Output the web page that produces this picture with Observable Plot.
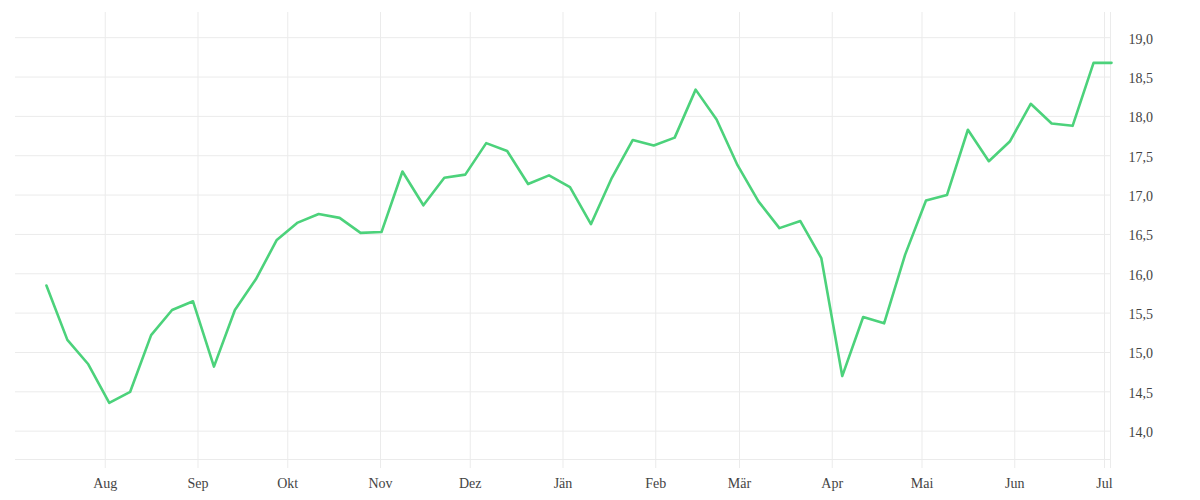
<!DOCTYPE html>
<html>
<head>
<meta charset="utf-8">
<script src="https://cdn.jsdelivr.net/npm/d3@7"></script>
<script src="https://cdn.jsdelivr.net/npm/@observablehq/plot@0.6"></script>
<style>
  html, body { margin: 0; padding: 0; background: #fff; }
  #chart svg { display: block; }
</style>
</head>
<body>
<div id="chart"></div>
<script>
// Weekly dates (start) and values
const startDate = "2022-07-12";
const lastDate = "2023-07-03";
const values = [
  15.85, 15.16, 14.85, 14.36, 14.50, 15.22, 15.54, 15.65, 14.82, 15.54,
  15.93, 16.43, 16.65, 16.76, 16.71, 16.52, 16.53, 17.30, 16.87, 17.22,
  17.26, 17.66, 17.56, 17.14, 17.25, 17.10, 16.63, 17.22, 17.70, 17.63,
  17.73, 18.34, 17.96, 17.38, 16.92, 16.58, 16.67, 16.20, 14.70, 15.45,
  15.37, 16.24, 16.93, 17.00, 17.83, 17.43, 17.68, 18.16, 17.91, 17.88,
  18.68, 18.68
];
const monthNames = ["Jän","Feb","Mär","Apr","Mai","Jun","Jul","Aug","Sep","Okt","Nov","Dez"];
const yTicks = [14, 14.5, 15, 15.5, 16, 16.5, 17, 17.5, 18, 18.5, 19];
const xDomain = ["2022-07-02", "2023-07-03"];
const yDomain = [13.64, 19.32];

const t0 = new Date(startDate + "T00:00:00Z");
const data = values.map((v, i) => ({
  date: i < values.length - 1 ? d3.utcDay.offset(t0, 7 * i) : new Date(lastDate + "T00:00:00Z"),
  value: v
}));
const xd = xDomain.map(s => new Date(s + "T00:00:00Z"));
const monthTicks = d3.utcMonth.range(new Date("2022-08-01T00:00:00Z"), new Date("2023-07-02T00:00:00Z"));
const gridColor = "#ebebeb";

const chart = Plot.plot({
  width: 1200,
  height: 500,
  marginLeft: 15,
  marginRight: 90,
  marginTop: 12,
  marginBottom: 41,
  style: { fontFamily: "'Liberation Serif', serif", fontSize: "14px", color: "#444", background: "#fff" },
  x: { type: "utc", domain: xd, label: null },
  y: { domain: yDomain, label: null },
  marks: [
    Plot.gridY(yTicks, { stroke: gridColor, strokeOpacity: 1 }),
    Plot.ruleY([yDomain[0]], { stroke: gridColor, strokeOpacity: 1 }),
    Plot.ruleX(monthTicks.concat([xd[1]]), { stroke: gridColor, strokeOpacity: 1, y1: yDomain[1], y2: yDomain[0], insetBottom: -9 }),
    Plot.axisX(monthTicks, {
      tickSize: 0, tickPadding: 19, label: null,
      tickFormat: d => monthNames[d.getUTCMonth()],
      fill: "#444"
    }),
    Plot.axisY(yTicks, {
      anchor: "right", tickSize: 0, tickPadding: 18, textAnchor: "start", label: null,
      tickFormat: d => d.toFixed(1).replace(".", ","),
      fill: "#444", dy: 1.5
    }),
    Plot.line(data, { x: "date", y: "value", stroke: "#4cd27b", strokeWidth: 2.6, dx: 1 })
  ]
});
document.getElementById("chart").append(chart);
</script>
</body>
</html>
